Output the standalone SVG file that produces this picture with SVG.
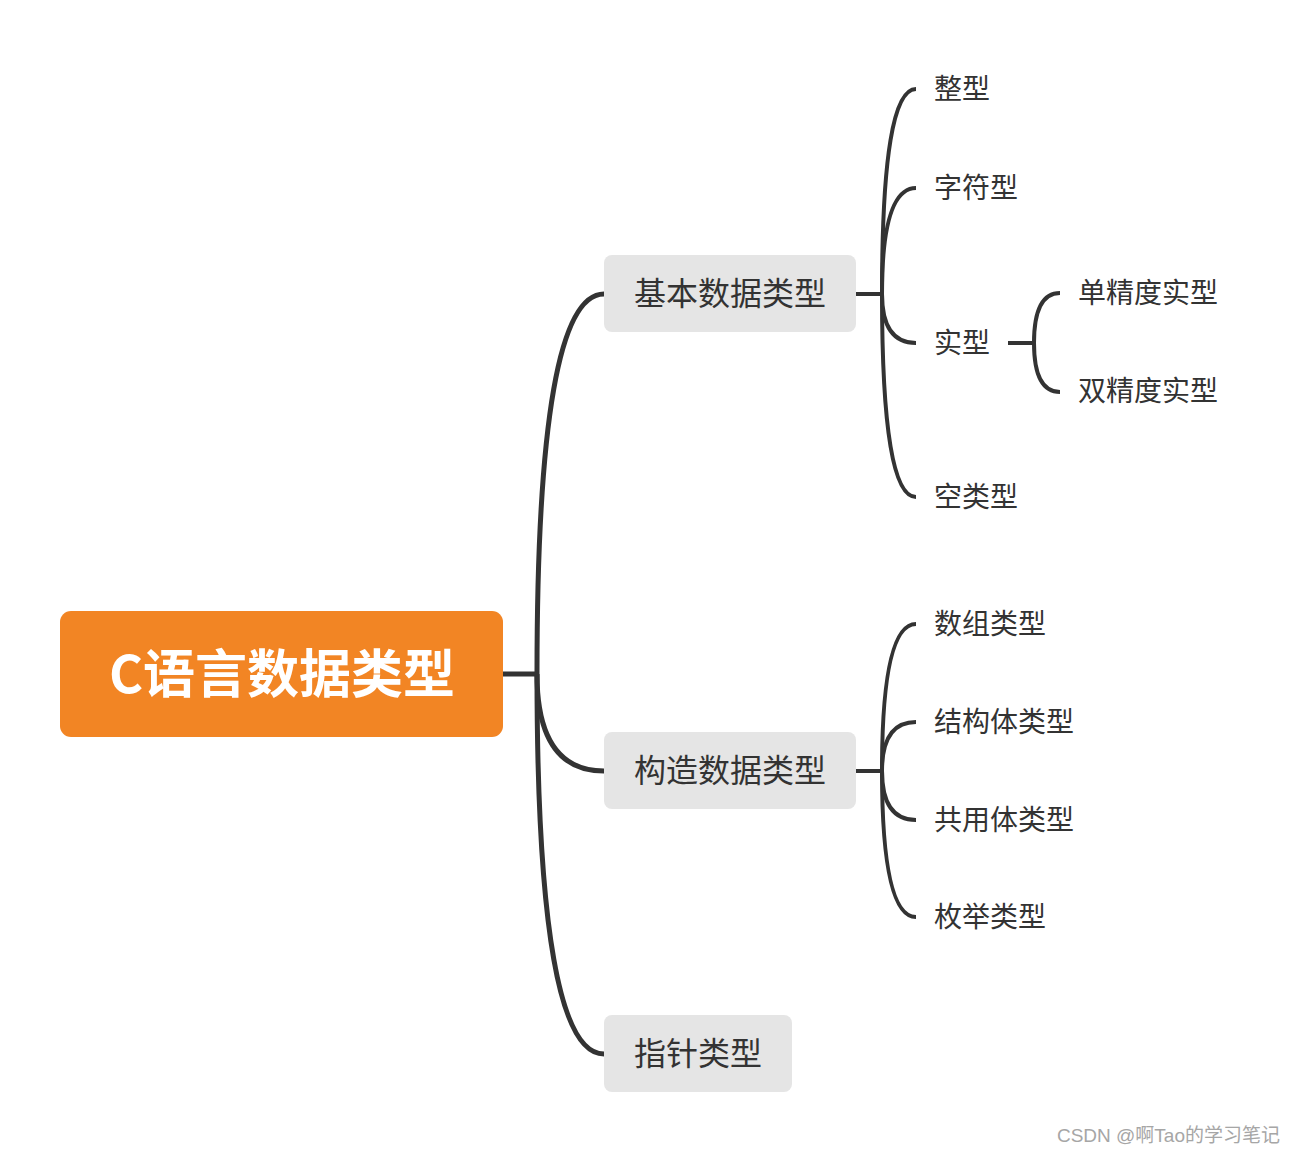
<svg xmlns="http://www.w3.org/2000/svg" width="1296" height="1154" viewBox="0 0 1296 1154">
<style>
.ln{fill:none;stroke:#333;stroke-width:4;stroke-linecap:butt}
.lnm{fill:none;stroke:#333;stroke-width:5}
.box{fill:#E5E5E5}
.t2{font-family:"Noto Sans CJK SC","Noto Sans",sans-serif;font-size:32px;fill:#333}
.t3{font-family:"Noto Sans CJK SC","Noto Sans",sans-serif;font-size:28px;fill:#333}
.root{font-family:"Noto Sans CJK SC","Noto Sans",sans-serif;font-size:52px;font-weight:bold;fill:#fff}
</style>
<rect width="1296" height="1154" fill="#fff"/>
<g id="connectors">
<path class="lnm" d="M503,674 H537"/>
<path class="lnm" d="M537,674 Q537,294 604,294"/>
<path class="lnm" d="M537,674 Q537,771 604,771"/>
<path class="lnm" d="M537,674 Q537,1054 604,1054"/>
<path class="ln" d="M856,294 H882"/>
<path class="ln" d="M882,294 Q882,89 916,89"/>
<path class="ln" d="M882,294 Q882,188 916,188"/>
<path class="ln" d="M882,294 Q882,343 916,343"/>
<path class="ln" d="M882,294 Q882,497 916,497"/>
<path class="ln" d="M1008,343 H1034"/>
<path class="ln" d="M1034,343 Q1034,293 1060,293"/>
<path class="ln" d="M1034,343 Q1034,392 1060,392"/>
<path class="ln" d="M856,771 H882"/>
<path class="ln" d="M882,771 Q882,624 916,624"/>
<path class="ln" d="M882,771 Q882,722 916,722"/>
<path class="ln" d="M882,771 Q882,820 916,820"/>
<path class="ln" d="M882,771 Q882,917 916,917"/>
</g>
<g id="root">
<rect x="60" y="611" width="443" height="126" rx="11" fill="#F28524"/>
<text class="root" x="282" y="693" text-anchor="middle">C语言数据类型</text>
</g>
<g id="n-basic">
<rect class="box" x="604" y="255" width="252" height="77" rx="8"/>
<text class="t2" x="730" y="305" text-anchor="middle">基本数据类型</text>
</g>
<g id="n-struct">
<rect class="box" x="604" y="732" width="252" height="77" rx="8"/>
<text class="t2" x="730" y="782" text-anchor="middle">构造数据类型</text>
</g>
<g id="n-pointer">
<rect class="box" x="604" y="1015" width="188" height="77" rx="8"/>
<text class="t2" x="698" y="1065" text-anchor="middle">指针类型</text>
</g>
<g id="n-int"><text class="t3" x="934" y="99">整型</text></g>
<g id="n-char"><text class="t3" x="934" y="198">字符型</text></g>
<g id="n-real"><text class="t3" x="934" y="353">实型</text></g>
<g id="n-float"><text class="t3" x="1078" y="303">单精度实型</text></g>
<g id="n-double"><text class="t3" x="1078" y="401">双精度实型</text></g>
<g id="n-void"><text class="t3" x="934" y="507">空类型</text></g>
<g id="n-array"><text class="t3" x="934" y="634">数组类型</text></g>
<g id="n-structure"><text class="t3" x="934" y="732">结构体类型</text></g>
<g id="n-union"><text class="t3" x="934" y="830">共用体类型</text></g>
<g id="n-enum"><text class="t3" x="934" y="927">枚举类型</text></g>
<text x="1280" y="1142" text-anchor="end" font-family="'Liberation Sans','Noto Sans CJK SC',sans-serif" font-size="19" fill="#A6A6A6">CSDN @啊Tao的学习笔记</text>
</svg>
